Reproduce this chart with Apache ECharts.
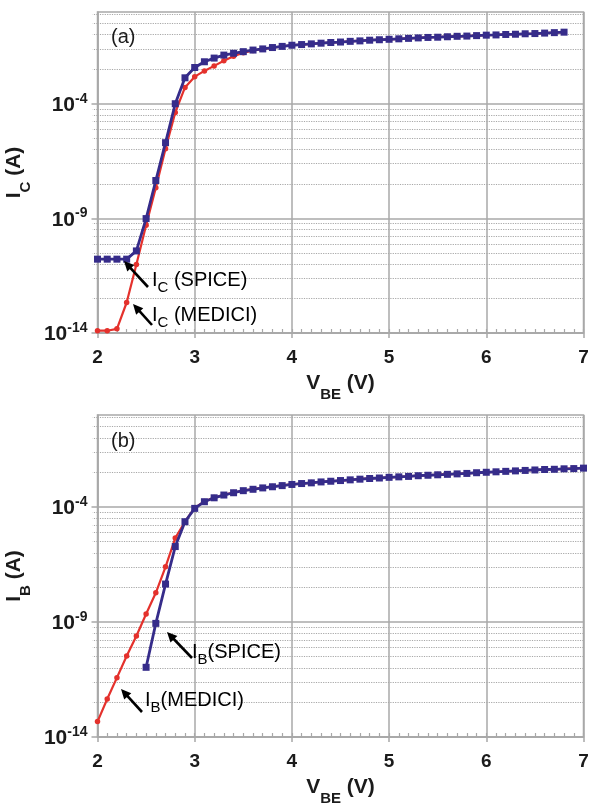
<!DOCTYPE html>
<html>
<head>
<meta charset="utf-8">
<script src="https://cdn.jsdelivr.net/npm/echarts@6/dist/echarts.min.js"></script>
<style>
  html, body { margin: 0; padding: 0; background: #fff; }
  #chart { width: 590px; height: 804px; }
</style>
</head>
<body>
<div id="chart"></div>
<script>
// Base-emitter voltage sweep (V)
const vbeA = [2.0, 2.1, 2.2, 2.3, 2.4, 2.5, 2.6, 2.7, 2.8, 2.9,
              3.0, 3.1, 3.2, 3.3, 3.4, 3.5, 3.6, 3.7, 3.8, 3.9,
              4.0, 4.1, 4.2, 4.3, 4.4, 4.5, 4.6, 4.7, 4.8, 4.9,
              5.0, 5.1, 5.2, 5.3, 5.4, 5.5, 5.6, 5.7, 5.8, 5.9,
              6.0, 6.1, 6.2, 6.3, 6.4, 6.5, 6.6, 6.7, 6.8];
const vbeB = [2.0, 2.1, 2.2, 2.3, 2.4, 2.5, 2.6, 2.7, 2.8, 2.9,
              3.0, 3.1, 3.2, 3.3, 3.4, 3.5, 3.6, 3.7, 3.8, 3.9,
              4.0, 4.1, 4.2, 4.3, 4.4, 4.5, 4.6, 4.7, 4.8, 4.9,
              5.0, 5.1, 5.2, 5.3, 5.4, 5.5, 5.6, 5.7, 5.8, 5.9,
              6.0, 6.1, 6.2, 6.3, 6.4, 6.5, 6.6, 6.7, 6.8, 6.9, 7.0];

// Currents as decade exponents: log10(I / 1 A)
const icSpice = [-10.78, -10.78, -10.78, -10.78, -10.42, -9.01, -7.35, -5.70, -4.00, -2.87,
                 -2.42, -2.17, -2.01, -1.88, -1.80, -1.73, -1.66, -1.61, -1.55, -1.50,
                 -1.45, -1.42, -1.39, -1.36, -1.33, -1.31, -1.28, -1.26, -1.23, -1.21,
                 -1.19, -1.17, -1.15, -1.13, -1.11, -1.10, -1.08, -1.06, -1.05, -1.03,
                 -1.01, -1.00, -0.98, -0.97, -0.95, -0.94, -0.92, -0.90, -0.88];
const icMedici = [-13.90, -13.90, -13.82, -12.67, -11.01, -9.30, -7.66, -5.96, -4.38, -3.29,
                  -2.82, -2.57, -2.35, -2.13, -1.93, -1.78, -1.68, -1.62, -1.56, -1.50,
                  -1.45, -1.42, -1.39, -1.36, -1.33, -1.31, -1.28, -1.25, -1.23, -1.21,
                  -1.19, -1.17, -1.15, -1.13, -1.11, -1.09, -1.07, -1.06, -1.05, -1.03,
                  -1.01, -1.00, -0.98, -0.97, -0.95, -0.94, -0.92, -0.90, -0.88];
const ibSpice = [null, null, null, null, null, -10.97, -9.06, -7.35, -5.72, -4.64,
                 -4.06, -3.77, -3.60, -3.48, -3.38, -3.29, -3.23, -3.17, -3.12, -3.07,
                 -3.02, -2.98, -2.95, -2.91, -2.88, -2.85, -2.82, -2.79, -2.76, -2.74,
                 -2.71, -2.69, -2.67, -2.64, -2.62, -2.60, -2.58, -2.56, -2.54, -2.51,
                 -2.49, -2.47, -2.45, -2.43, -2.41, -2.39, -2.37, -2.36, -2.34, -2.33, -2.31];
const ibMedici = [-13.33, -12.35, -11.42, -10.48, -9.61, -8.65, -7.73, -6.60, -5.35, -4.64,
                  -4.04, -3.76, -3.59, -3.47, -3.37, -3.29, -3.22, -3.16, -3.11, -3.06,
                  -3.02, -2.98, -2.94, -2.91, -2.88, -2.85, -2.82, -2.78, -2.76, -2.74,
                  -2.71, -2.69, -2.67, -2.64, -2.62, -2.59, -2.57, -2.56, -2.54, -2.51,
                  -2.49, -2.47, -2.45, -2.43, -2.41, -2.39, -2.37, -2.36, -2.34, -2.32, -2.30];

// Axis ticks: volts on x, decade exponents on y
const xTicks = [2, 3, 4, 5, 6, 7];
const yMajor = [-14, -9, -4];
const yTop = 0;

// Dotted minor lines sit at 2x..9x of each 5-decade step
const yMinor = [];
yMajor.forEach(m => {
  for (let k = 2; k <= 9; k++) {
    const v = m + 5 * Math.log10(k);
    if (v < yTop) yMinor.push(v);
  }
});

const FONT = '"Liberation Sans", Arial, sans-serif';
const RED = '#e4312c';
const BLUE = '#362c8a';
const GRID_C = '#a8a8a8';
const INK = '#1b1b1b';

const pairs = (xs, ys) => xs.map((x, i) => [x, ys[i]]).filter(p => p[1] != null);

const tickRich = {
  b: { fontFamily: FONT, fontWeight: 'bold', fontSize: 21, color: INK, lineHeight: 24, verticalAlign: 'bottom' },
  s: { fontFamily: FONT, fontWeight: 'bold', fontSize: 14, color: INK, lineHeight: 24, verticalAlign: 'top' }
};
const nameRich = {
  m: { fontFamily: FONT, fontWeight: 'bold', fontSize: 21, color: INK, lineHeight: 29, verticalAlign: 'top' },
  s: { fontFamily: FONT, fontWeight: 'bold', fontSize: 15, color: INK, lineHeight: 29, verticalAlign: 'bottom' }
};

function xAxesFor(gridIndex) {
  return [
    {
      gridIndex, type: 'value', position: 'bottom', min: xTicks[0], max: xTicks[xTicks.length - 1],
      axisLine: { show: true, onZero: false, lineStyle: { color: GRID_C, width: 1.5 } },
      axisTick: { show: true, inside: false, length: 5, customValues: xTicks, lineStyle: { color: GRID_C, width: 1.5 } },
      axisLabel: { show: true, customValues: xTicks, margin: 15, fontFamily: FONT, fontWeight: 'bold', fontSize: 19, color: INK },
      splitLine: { show: true, lineStyle: { color: GRID_C, width: 1.5 } },
      name: '{m|V}{s|BE}{m| (V)}', nameLocation: 'middle', nameGap: 40,
      nameTextStyle: { rich: nameRich }
    },
    {
      gridIndex, type: 'value', position: 'bottom', min: xTicks[0], max: xTicks[xTicks.length - 1], interval: 0.1,
      axisLine: { show: false, onZero: false },
      axisTick: { show: true, inside: true, length: 4, lineStyle: { color: GRID_C, width: 1.2 } },
      axisLabel: { show: false },
      splitLine: { show: false }
    }
  ];
}

function yAxesFor(gridIndex, sub) {
  return [
    {
      gridIndex, type: 'value', position: 'left', min: yMajor[0], max: yTop,
      axisLine: { show: true, onZero: false, lineStyle: { color: GRID_C, width: 1.5 } },
      axisTick: { show: true, inside: false, length: 6, customValues: yMajor, lineStyle: { color: GRID_C, width: 1.5 } },
      axisLabel: {
        show: true, customValues: yMajor, margin: 10,
        formatter: v => '{b|10}{s|' + v + '}', rich: tickRich
      },
      splitLine: { show: true, lineStyle: { color: GRID_C, width: 1.5 } },
      name: '{m|I}{s|' + sub + '}{m| (A)}', nameLocation: 'middle', nameGap: 59, nameRotate: 90,
      nameTextStyle: { rich: nameRich }
    },
    {
      gridIndex, type: 'value', position: 'left', min: yMajor[0], max: yTop,
      axisLine: { show: false, onZero: false },
      axisTick: { show: true, inside: false, length: 5, customValues: yMinor, lineStyle: { color: GRID_C, width: 1.2, type: 'dotted' } },
      axisLabel: { show: false, customValues: yMinor },
      splitLine: { show: true, lineStyle: { color: GRID_C, width: 1.2, type: 'dotted' } }
    }
  ];
}

function curve(name, xs, ys, xi, yi, color, symbol, size, width, z) {
  return {
    name, type: 'line', xAxisIndex: xi, yAxisIndex: yi, data: pairs(xs, ys),
    symbol, symbolSize: size, showSymbol: true, z,
    lineStyle: { color, width },
    itemStyle: { color, borderWidth: 0 },
    emphasis: { disabled: true }
  };
}

// Arrow pointing from a label toward its curve
function arrow(tx, ty, hx, hy) {
  const dx = hx - tx, dy = hy - ty, len = Math.hypot(dx, dy);
  const ux = dx / len, uy = dy / len;
  const hl = 10, hw = 4.8;
  const bx = hx - ux * hl, by = hy - uy * hl;
  return [
    { type: 'line', z: 100, shape: { x1: tx, y1: ty, x2: bx + ux * 2, y2: by + uy * 2 },
      style: { stroke: '#000', lineWidth: 2.6 } },
    { type: 'polygon', z: 100, shape: { points: [[hx, hy], [bx - uy * hw, by + ux * hw], [bx + uy * hw, by - ux * hw]] },
      style: { fill: '#000' } }
  ];
}

const noteRich = {
  m: { fontFamily: FONT, fontSize: 20, color: INK, lineHeight: 25, verticalAlign: 'top' },
  s: { fontFamily: FONT, fontSize: 15, color: INK, lineHeight: 25, verticalAlign: 'bottom' }
};
function note(x, y, text) {
  return { type: 'text', z: 100, x, y, style: { text, rich: noteRich, align: 'left', verticalAlign: 'middle' } };
}
function panelTag(x, y, text) {
  return { type: 'text', z: 100, x, y,
    style: { text, fontFamily: FONT, fontSize: 20, fill: INK, align: 'left', verticalAlign: 'middle' } };
}

const gridBase = {
  left: 97.5, right: 6.5, show: true, borderColor: GRID_C, borderWidth: 1.5,
  backgroundColor: 'transparent', outerBoundsMode: 'none', containLabel: false
};

const chart = echarts.init(document.getElementById('chart'), null, { renderer: 'canvas' });
chart.setOption({
  animation: false,
  backgroundColor: '#fff',
  grid: [
    Object.assign({ top: 12, height: 321 }, gridBase),
    Object.assign({ top: 415, height: 322 }, gridBase)
  ],
  xAxis: [...xAxesFor(0), ...xAxesFor(1)],
  yAxis: [...yAxesFor(0, 'C'), ...yAxesFor(1, 'B')],
  series: [
    curve('IC MEDICI', vbeA, icMedici, 0, 0, RED, 'circle', 5.5, 2.2, 2),
    curve('IC SPICE', vbeA, icSpice, 0, 0, BLUE, 'rect', 7, 2.8, 3),
    curve('IB MEDICI', vbeB, ibMedici, 2, 2, RED, 'circle', 5.5, 2.2, 2),
    curve('IB SPICE', vbeB, ibSpice, 2, 2, BLUE, 'rect', 7, 2.8, 3)
  ],
  graphic: [
    panelTag(111, 37, '(a)'),
    panelTag(111, 441, '(b)'),
    ...arrow(148, 287, 124, 261),
    note(152, 283, '{m|I}{s|C}{m| (SPICE)}'),
    ...arrow(152, 325, 133, 304),
    note(152, 318, '{m|I}{s|C}{m| (MEDICI)}'),
    ...arrow(192, 658, 167, 632),
    note(192, 655, '{m|I}{s|B}{m|(SPICE)}'),
    ...arrow(142, 712, 121, 689),
    note(145, 703, '{m|I}{s|B}{m|(MEDICI)}')
  ]
});
</script>
</body>
</html>
